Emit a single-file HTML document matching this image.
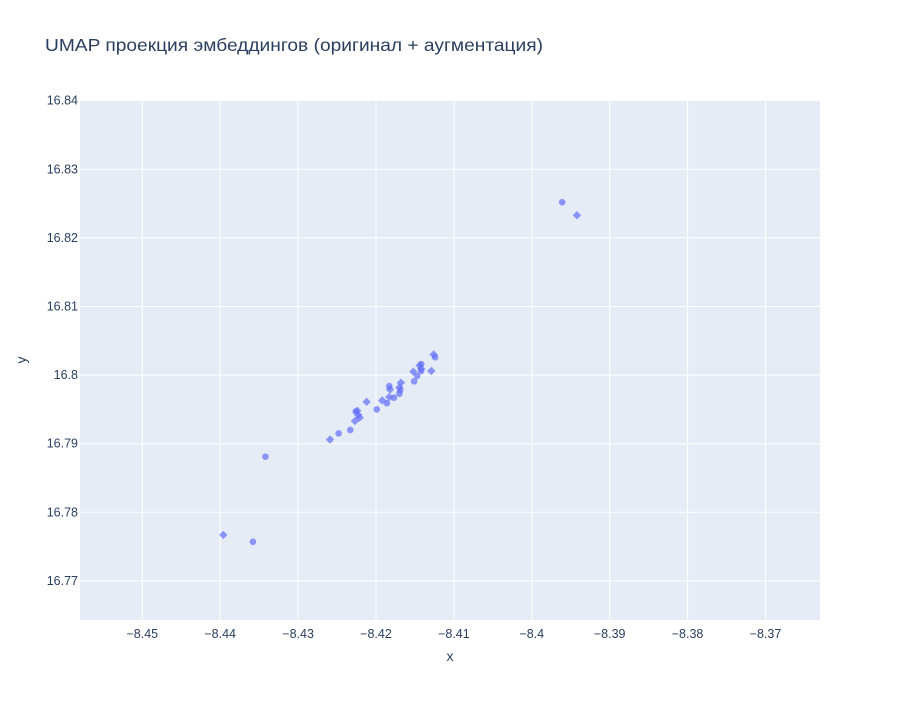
<!DOCTYPE html>
<html><head><meta charset="utf-8"><style>
body{margin:0;background:#fff;font-family:"Liberation Sans","Noto Sans CJK SC",sans-serif}
svg text{font-family:"Liberation Sans","DejaVu Sans",sans-serif;fill:#2a3f5f}
</style></head><body>
<svg id="chart" width="900" height="700" xmlns="http://www.w3.org/2000/svg">
<rect width="900" height="700" fill="#fff"/>
<text x="45" y="51" font-size="17.5" textLength="498" lengthAdjust="spacingAndGlyphs">UMAP проекция эмбеддингов (оригинал + аугментация)</text>
<rect x="80" y="100" width="740" height="520" fill="#e5ecf6"/>
<g id="grid"></g>
<g id="marks"></g>
<g id="ticks"></g>
<text x="450" y="661" font-size="14" text-anchor="middle">x</text>
<text x="26" y="360" font-size="14" text-anchor="middle" transform="rotate(-90 26 360)">y</text>
</svg>
<script>
const circleX=[-8.4248,-8.4233,-8.4226,-8.4199,-8.4186,-8.4177,-8.4183,-8.4170,-8.4169,-8.4151,-8.4147,-8.4142,-8.4142,-8.4124,-8.4342,-8.4358,-8.3961];
const circleY=[16.7915,16.7920,16.7947,16.7950,16.7959,16.7967,16.7984,16.7973,16.7978,16.7991,16.7999,16.8016,16.8006,16.8026,16.7881,16.7757,16.8252];
const diamondX=[-8.4259,-8.4227,-8.4224,-8.4223,-8.4221,-8.4212,-8.4192,-8.4183,-8.4182,-8.4170,-8.4168,-8.4152,-8.4144,-8.4142,-8.4129,-8.4126,-8.4396,-8.3942];
const diamondY=[16.7906,16.7933,16.7948,16.7942,16.7938,16.7961,16.7963,16.7968,16.7979,16.7982,16.7989,16.8005,16.8014,16.8009,16.8006,16.8030,16.7767,16.8233];
const xTicks=[-8.45,-8.44,-8.43,-8.42,-8.41,-8.40,-8.39,-8.38,-8.37];
const xTickLabels=["−8.45","−8.44","−8.43","−8.42","−8.41","−8.4","−8.39","−8.38","−8.37"];
const yTicks=[16.77,16.78,16.79,16.80,16.81,16.82,16.83,16.84];
const yTickLabels=["16.77","16.78","16.79","16.8","16.81","16.82","16.83","16.84"];
const X0=80,X1=820,Y0=100,Y1=620,xmin=-8.4580,xmax=-8.3630,ymin=16.7643,ymax=16.8401;
const sx=v=>X0+(v-xmin)/(xmax-xmin)*(X1-X0);
const sy=v=>Y1-(v-ymin)/(ymax-ymin)*(Y1-Y0);
const NS="http://www.w3.org/2000/svg";
const grid=document.getElementById('grid'),marks=document.getElementById('marks'),ticks=document.getElementById('ticks');
function mk(tag,attrs,parent){const e=document.createElementNS(NS,tag);for(const k in attrs)e.setAttribute(k,attrs[k]);parent.appendChild(e);return e;}
xTicks.forEach((v,i)=>{
  const l=mk('line',{x1:sx(v),x2:sx(v),y1:Y0,y2:Y1,stroke:'#fff','stroke-width':1},grid);
  
  
  const t=mk('text',{x:sx(v),y:Y1+18,'font-size':12.5,'text-anchor':'middle'},ticks);
  t.textContent=xTickLabels[i];
  
  
});
yTicks.forEach((v,i)=>{
  const l=mk('line',{x1:X0,x2:X1,y1:sy(v),y2:sy(v),stroke:'#fff','stroke-width':1},grid);
  
  
  const t=mk('text',{x:X0-2,y:sy(v)+4,'font-size':12.5,'text-anchor':'end'},ticks);
  t.textContent=yTickLabels[i];
  
  
});
circleX.forEach((v,i)=>{
  const c=mk('circle',{cx:sx(v),cy:sy(circleY[i]),r:3.3,fill:'#636efa','fill-opacity':0.7},marks);
  
  
});
diamondX.forEach((v,i)=>{
  const x=sx(v),y=sy(diamondY[i]),r=4.2;
  const p=mk('polygon',{points:`${x},${y-r} ${x+r},${y} ${x},${y+r} ${x-r},${y}`,fill:'#636efa','fill-opacity':0.7},marks);
  
  
});
</script>
</body></html>
